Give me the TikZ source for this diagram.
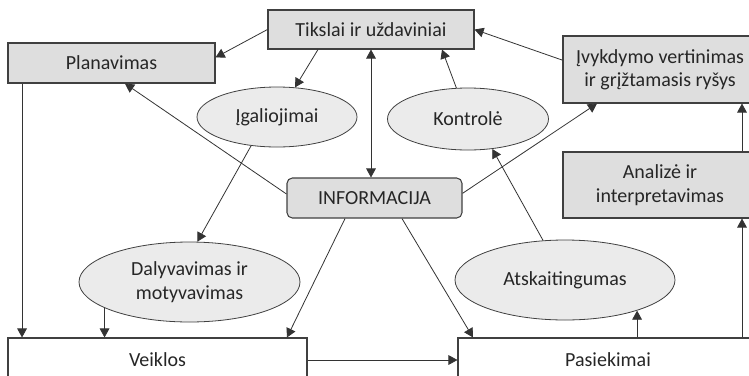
\documentclass[tikz,border=0pt]{standalone}
\usepackage{fontspec}
\setmainfont{Carlito}
\usetikzlibrary{arrows.meta,positioning,shapes.geometric}

\begin{document}
\begin{tikzpicture}[
  x=0.75pt, y=-0.75pt,
  font=\fontsize{15}{17.5}\selectfont,
  hd/.tip={Triangle[length=6.8pt,width=7.3pt]},
  box/.style={draw=black!75, fill=black!13, text=black!85, line width=0.8pt, inner sep=0pt, align=center},
  info/.style={box, rounded corners=4pt},
  plainbox/.style={box, fill=white},
  oval/.style={ellipse, draw=black!75, fill=black!8, text=black!85, line width=0.6pt, inner sep=0pt, align=center},
  arr/.style={-hd, draw=black!80, line width=0.6pt}
]

\clip (0,0) rectangle (749,375);

% Top row
\node[box, minimum width=154.5pt, minimum height=29.25pt] (tikslai) at (371,29.5) {Tikslai ir uždaviniai};
\node[box, minimum width=155.25pt, minimum height=30pt] (plan) at (111.5,63) {Planavimas};
\node[box, minimum width=145.5pt, minimum height=50.25pt] (ivyk) at (660,69.5) {Įvykdymo vertinimas\\ir grįžtamasis ryšys};
\node[box, minimum width=145.5pt, minimum height=49.5pt] (anal) at (660,185) {Analizė ir\\interpretavimas};

% Centre
\node[info, minimum width=131.25pt, minimum height=30pt] (info) at (374.5,198) {INFORMACIJA};

% Ellipses
\node[oval, minimum width=120pt, minimum height=45pt] (igal) at (277,117) {Įgaliojimai};
\node[oval, minimum width=120.75pt, minimum height=46.5pt] (kontr) at (468,119) {Kontrolė};
\node[oval, minimum width=165.75pt, minimum height=60pt] (daly) at (189.5,282) {Dalyvavimas ir\\motyvavimas};
\node[oval, minimum width=165pt, minimum height=60pt] (atsk) at (565,280) {Atskaitingumas};

% Bottom row
\node[plainbox, minimum width=224.25pt, minimum height=33pt] (veik) at (157.5,360) {Veiklos};
\node[plainbox, minimum width=225pt, minimum height=33pt] (pas) at (608,360) {Pasiekimai};

% Goals
\draw[arr] (tikslai.west) -- ([yshift=-11.25pt]plan.north east);
\draw[arr] ([xshift=-39.75pt]tikslai.south) -- (igal);
\draw[arr, hd-hd] (tikslai.south) -- (tikslai.south |- info.north);
\draw[arr] (kontr) -- ([xshift=53.25pt]tikslai.south);
\draw[arr] ([yshift=7pt]ivyk.west) -- (tikslai.east);

% Information flows
\draw[arr] ([yshift=3pt]info.west) -- ([xshift=10.1pt]plan.south);
\draw[arr] ([yshift=3.5pt]info.east) -- ([xshift=-47.25pt]ivyk.south);
\draw[arr] ([xshift=-22.1pt]info.south) -- ([xshift=97.1pt]veik.north);
\draw[arr] ([xshift=20.6pt]info.south) -- ([xshift=-101.25pt]pas.north);

% Ellipse links
\draw[arr] (igal.228) -- (daly.79);
\draw[arr] (atsk.119) -- (kontr.309);

% Down to activities
\draw[arr] ([xshift=-67.1pt]plan.south) -- ([xshift=-67.1pt]plan.south |- veik.north);
\draw[arr] (daly.197) -- (daly.197 |- veik.north);
\draw[arr] (veik.east) -- (pas.west);

% Up from results
\draw[arr] (atsk.337 |- pas.north) -- (atsk.337);
\draw[arr] ([xshift=61.5pt]anal.south |- pas.north) -- ([xshift=61.5pt]anal.south);
\draw[arr] ([xshift=61.5pt]anal.north) -- ([xshift=61.5pt]ivyk.south);

\end{tikzpicture}
\end{document}
